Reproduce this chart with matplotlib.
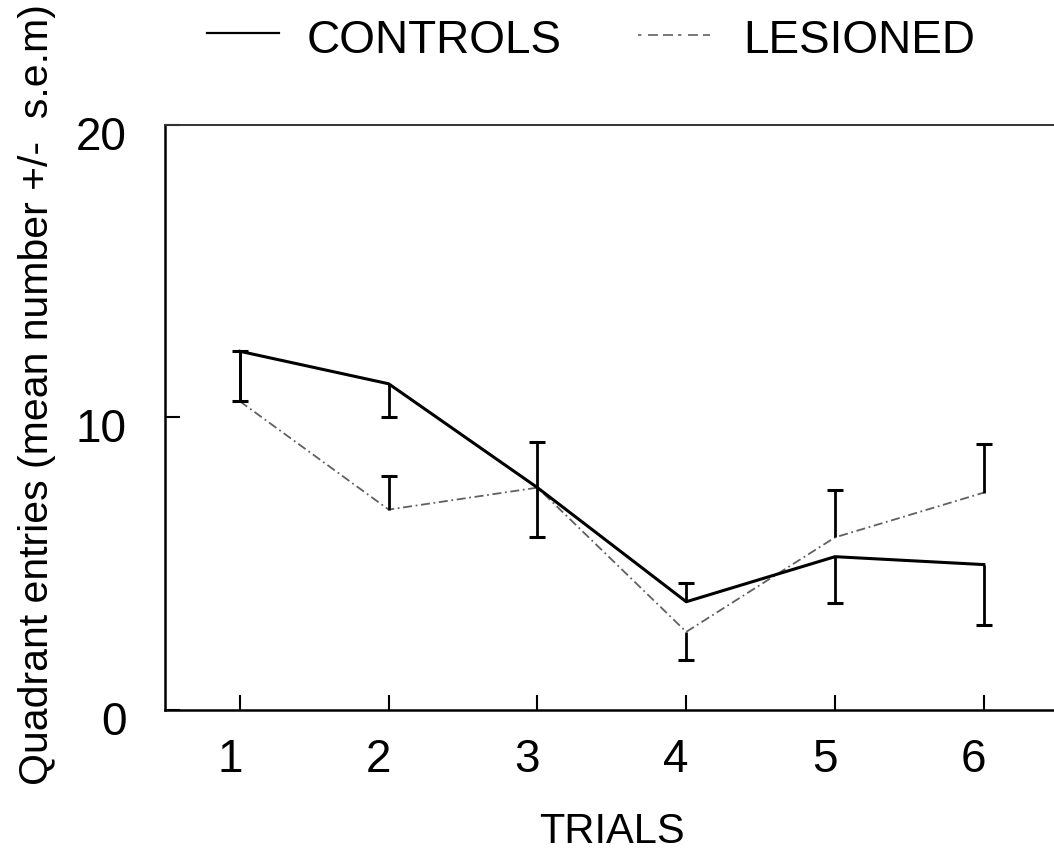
import matplotlib
matplotlib.use('Agg')
import matplotlib.pyplot as plt
import matplotlib.transforms as mtransforms
from matplotlib.lines import Line2D
import numpy as np

plt.rcParams['font.family'] = ['Liberation Sans', 'DejaVu Sans']

# data
trials = [1, 2, 3, 4, 5, 6]
controls = [12.26, 11.15, 7.6, 3.7, 5.24, 4.97]
controls_err_lo = [1.71, 1.15, 0.0, 0.0, 1.58, 2.07]
controls_err_hi = [0.0, 0.0, 1.57, 0.65, 0.0, 0.0]
lesioned = [10.55, 6.85, 7.6, 2.67, 5.9, 7.43]
lesioned_err_lo = [0.0, 0.0, 1.7, 0.97, 0.0, 0.0]
lesioned_err_hi = [1.71, 1.15, 0.0, 0.0, 1.63, 1.65]

fig = plt.figure(figsize=(10.54, 8.58), dpi=100)
ax = fig.add_axes([0.157, 0.1725, 0.847, 0.682])

dash = (0, (5, 2, 1, 2))
ax.plot(trials, lesioned, color='#606060', lw=1.3, linestyle=dash, zorder=2)
ax.plot(trials, controls, color='black', lw=2.2, zorder=3)


def one_sided_bars(x, y, lo, hi):
    x = np.array(x)
    y = np.array(y)
    lo = np.array(lo)
    hi = np.array(hi)
    ax.vlines(x, y - lo, y + hi, color='black', lw=2.0, zorder=4)
    m = lo > 0
    ax.plot(x[m], (y - lo)[m], linestyle='none', marker='_', ms=11,
            mew=2.2, color='black', zorder=4)
    m = hi > 0
    ax.plot(x[m], (y + hi)[m], linestyle='none', marker='_', ms=11,
            mew=2.2, color='black', zorder=4)


one_sided_bars(trials, controls, controls_err_lo, controls_err_hi)
one_sided_bars(trials, lesioned, lesioned_err_lo, lesioned_err_hi)

ax.set_xlim(0.5, 6.5)
ax.set_ylim(0, 20)
ax.set_xticks(trials)
ax.set_yticks([0, 10, 20])
ax.tick_params(axis='both', direction='in', length=11, width=1.5,
               labelsize=33, colors='black')
ax.tick_params(axis='x', pad=20)
ax.tick_params(axis='y', pad=28)
for s in ['left', 'bottom']:
    ax.spines[s].set_linewidth(1.8)
ax.spines['top'].set_linewidth(1.4)
ax.spines['top'].set_color('#333333')

# the scanned labels sit a little off their ticks
shift_x = mtransforms.ScaledTranslation(-0.10, 0, fig.dpi_scale_trans)
for lab in ax.get_xticklabels():
    lab.set_transform(lab.get_transform() + shift_x)
shift_y = mtransforms.ScaledTranslation(0, -0.08, fig.dpi_scale_trans)
for lab in ax.get_yticklabels():
    lab.set_transform(lab.get_transform() + shift_y)

fig.text(0.581, 0.030, 'TRIALS', ha='center', va='center', fontsize=30)
fig.text(0.035, 0.540, 'Quadrant entries (mean number +/-  s.e.m)',
         rotation=90, ha='center', va='center', fontsize=29.5)

# legend drawn by hand
fig.add_artist(Line2D([0.196, 0.265], [0.961, 0.961], color='black', lw=1.6))
fig.text(0.291, 0.952, 'CONTROLS', ha='left', va='center', fontsize=33)
fig.add_artist(Line2D([0.605, 0.674], [0.959, 0.959], color='#606060', lw=1.2,
                      linestyle=(0, (2, 4, 6, 3, 6, 3))))
fig.text(0.705, 0.952, 'LESIONED', ha='left', va='center', fontsize=33)

fig.savefig('out.png', dpi=100)
